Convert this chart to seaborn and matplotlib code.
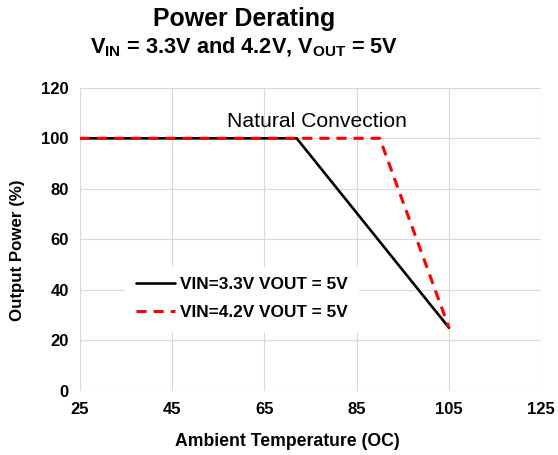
"""
power derating curve, natural convection
"""

import pandas as pd
import seaborn as sns
from matplotlib import pyplot as plt

# data
temp_33 = [25, 72, 105]
power_33 = [100, 100, 25]
temp_42 = [25, 90, 105]
power_42 = [100, 100, 25]
label_33 = "VIN=3.3V VOUT = 5V"
label_42 = "VIN=4.2V VOUT = 5V"
x_ticks = [25, 45, 65, 85, 105, 125]
y_ticks = [0, 20, 40, 60, 80, 100, 120]

sns.set_style("whitegrid", {"grid.color": "#d9d9d9", "axes.edgecolor": "#d9d9d9"})
plt.rcParams["font.family"] = ["Liberation Sans", "DejaVu Sans"]
plt.rcParams["mathtext.fontset"] = "custom"
plt.rcParams["mathtext.rm"] = "Liberation Sans"
plt.rcParams["mathtext.bf"] = "Liberation Sans:bold"
# plain black text like the original
for key in ["text.color", "axes.labelcolor", "xtick.color", "ytick.color"]:
    plt.rcParams[key] = "black"


def main():
    df_33 = pd.DataFrame({"temp": temp_33, "power": power_33})
    df_42 = pd.DataFrame({"temp": temp_42, "power": power_42})

    fig = plt.figure(figsize=(5.58, 4.55), dpi=100)
    ax = fig.add_axes([0.143, 0.141, 0.827, 0.666])

    sns.lineplot(data=df_33, x="temp", y="power", ax=ax, color="black",
                 linewidth=1.9, estimator=None, sort=False, label=label_33)
    sns.lineplot(data=df_42, x="temp", y="power", ax=ax, color="#ff0000",
                 linewidth=2.2, estimator=None, sort=False, label=label_42,
                 linestyle=(0, (3.3, 2.3)))

    ax.set_xlim(25, 125)
    ax.set_ylim(0, 120)
    ax.set_xticks(x_ticks)
    ax.set_yticks(y_ticks)
    ax.grid(True, color="#d9d9d9", linewidth=0.8)
    for s in ax.spines.values():
        s.set_visible(False)
    ax.tick_params(axis="both", length=0, labelsize=12, pad=8)
    for t in ax.get_xticklabels() + ax.get_yticklabels():
        t.set_fontweight("bold")

    ax.set_xlabel("Ambient Temperature (OC)", fontsize=12.7, fontweight="bold")
    ax.set_ylabel("Output Power (%)", fontsize=12.2, fontweight="bold")
    # labels sit a bit off the axes centre in the original
    ax.xaxis.set_label_coords(0.449, -0.14)
    ax.yaxis.set_label_coords(-0.118, 0.465)

    ax.text(57, 103, "Natural Convection", fontsize=15.2, ha="left",
            va="bottom")

    leg = ax.legend(loc="lower left", bbox_to_anchor=(0.08, 0.17),
                    frameon=True, fancybox=False,
                    prop={"size": 12.4, "weight": "bold"},
                    handlelength=2.3, handletextpad=0.25, labelspacing=0.75,
                    borderpad=0.6)
    leg.get_frame().set_facecolor("white")
    leg.get_frame().set_edgecolor("white")
    leg.get_frame().set_alpha(1)

    fig.text(0.438, 0.958, "Power Derating", ha="center", va="center",
             fontsize=17.9, fontweight="bold")
    fig.text(0.438, 0.895,
             r"$\mathbf{V_{IN}}$ = 3.3V and 4.2V, $\mathbf{V_{OUT}}$ = 5V",
             ha="center", va="center", fontsize=15.7, fontweight="bold")

    fig.savefig("out.png", dpi=100)


if __name__ == "__main__":
    main()
